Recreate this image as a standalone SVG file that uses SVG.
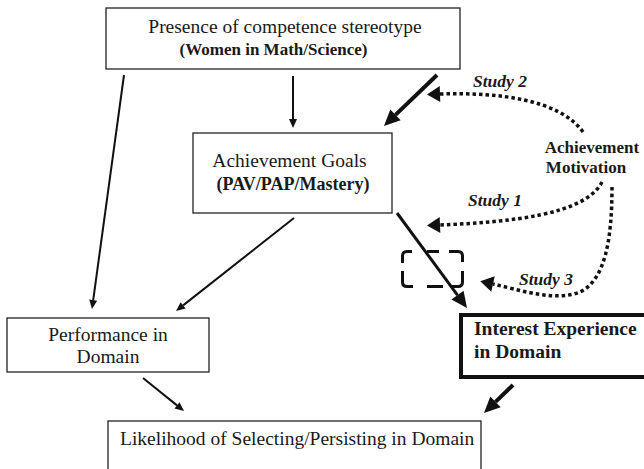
<svg xmlns="http://www.w3.org/2000/svg" width="644" height="469" viewBox="0 0 644 469">
<style>
text{font-family:'Liberation Serif','Times New Roman','DejaVu Serif',serif;fill:#1a1a1a;font-size:19.5px}
.b{font-weight:bold}
.b17{font-weight:bold;font-size:17px}
.b18{font-weight:bold;font-size:18px}
.st{font-weight:bold;font-style:italic;font-size:17.5px}
.box{fill:#fff;stroke:#222;stroke-width:1.3}
.thin{fill:none;stroke:#111;stroke-width:2}
.thick{fill:none;stroke:#111;stroke-width:4}
.mid{fill:none;stroke:#111;stroke-width:3}
.dot{fill:none;stroke:#111;stroke-width:3.5;stroke-dasharray:3.5 3}
</style>
<defs>
<marker id="ah" markerUnits="userSpaceOnUse" markerWidth="10" markerHeight="10" refX="0" refY="4" orient="auto" overflow="visible"><path d="M0,0 L9,4 L0,8 z" fill="#111"/></marker>
<marker id="ahb" markerUnits="userSpaceOnUse" markerWidth="18" markerHeight="16" refX="0" refY="7.5" orient="auto" overflow="visible"><path d="M0,0 L16,7.5 L0,15 z" fill="#111"/></marker>
<marker id="ahd" markerUnits="userSpaceOnUse" markerWidth="16" markerHeight="18" refX="0" refY="8" orient="auto" overflow="visible"><path d="M0,0 L13,8 L0,16 z" fill="#111"/></marker>
</defs>
<g id="connectors">
<path class="thin" d="M124,75 L93.2,300.1" marker-end="url(#ah)"/>
<path class="thin" d="M293,76 L293,119" marker-end="url(#ah)"/>
<path class="thin" d="M294,218 L183.1,305.4" marker-end="url(#ah)"/>
<path class="thin" d="M143,378 L177,405.4" marker-end="url(#ah)"/>
<path class="thick" d="M437,75 L395.5,114.9" marker-end="url(#ahb)"/>
<path class="mid" d="M397,213 L457.5,295.1" marker-end="url(#ahb)"/>
<path class="thick" d="M513,385 L495.5,401.9" marker-end="url(#ahb)"/>
<path class="dot" d="M583,132 C560,100 500,92 440,94" marker-end="url(#ahd)"/>
<path class="dot" d="M602,182 C585,215 510,222 440,225" marker-end="url(#ahd)"/>
<path class="dot" d="M612,187 C612,240 605,280 580,292 C555,302 520,290 493,284" marker-end="url(#ahd)"/>
<path fill="none" stroke="#111" stroke-width="3" d="M402.5,263 V256 Q402.5,251.5 407,251.5 H412 M427,251.5 H439 M449,251.5 H458 Q462.5,251.5 462.5,256 V262 M402.5,271 V282 Q402.5,286.5 407,286.5 H413 M427,286.5 H443 M450,286.5 H458 Q462.5,286.5 462.5,282 V271"/>
</g>
<g id="node-stereotype">
<rect class="box" x="106" y="8" width="354" height="61"/>
<text x="285" y="33" text-anchor="middle">Presence of competence stereotype</text>
<text class="b17" x="273.5" y="55" text-anchor="middle">(Women in Math/Science)</text>
</g>
<g id="node-goals">
<rect class="box" x="193" y="133" width="199" height="80"/>
<text x="289.5" y="167" text-anchor="middle">Achievement Goals</text>
<text class="b18" x="293" y="190" text-anchor="middle">(PAV/PAP/Mastery)</text>
</g>
<g id="node-performance">
<rect class="box" x="7" y="318" width="202" height="54"/>
<text x="108" y="341" text-anchor="middle">Performance in</text>
<text x="108" y="363" text-anchor="middle">Domain</text>
</g>
<g id="node-interest">
<rect x="461" y="315" width="190" height="62" fill="#fff" stroke="#111" stroke-width="4"/>
<text class="b" x="474" y="335">Interest Experience</text>
<text class="b" x="474" y="358">in Domain</text>
</g>
<g id="node-likelihood">
<rect class="box" x="108" y="421" width="373" height="60"/>
<text x="120" y="445">Likelihood of Selecting/Persisting in Domain</text>
</g>
<g id="node-motivation">
<text class="b17" x="592" y="153" text-anchor="middle">Achievement</text>
<text class="b17" x="586" y="173" text-anchor="middle">Motivation</text>
</g>
<g id="labels">
<text class="st" x="473" y="87">Study 2</text>
<text class="st" x="468" y="206">Study 1</text>
<text class="st" x="519" y="285">Study 3</text>
</g>
</svg>
